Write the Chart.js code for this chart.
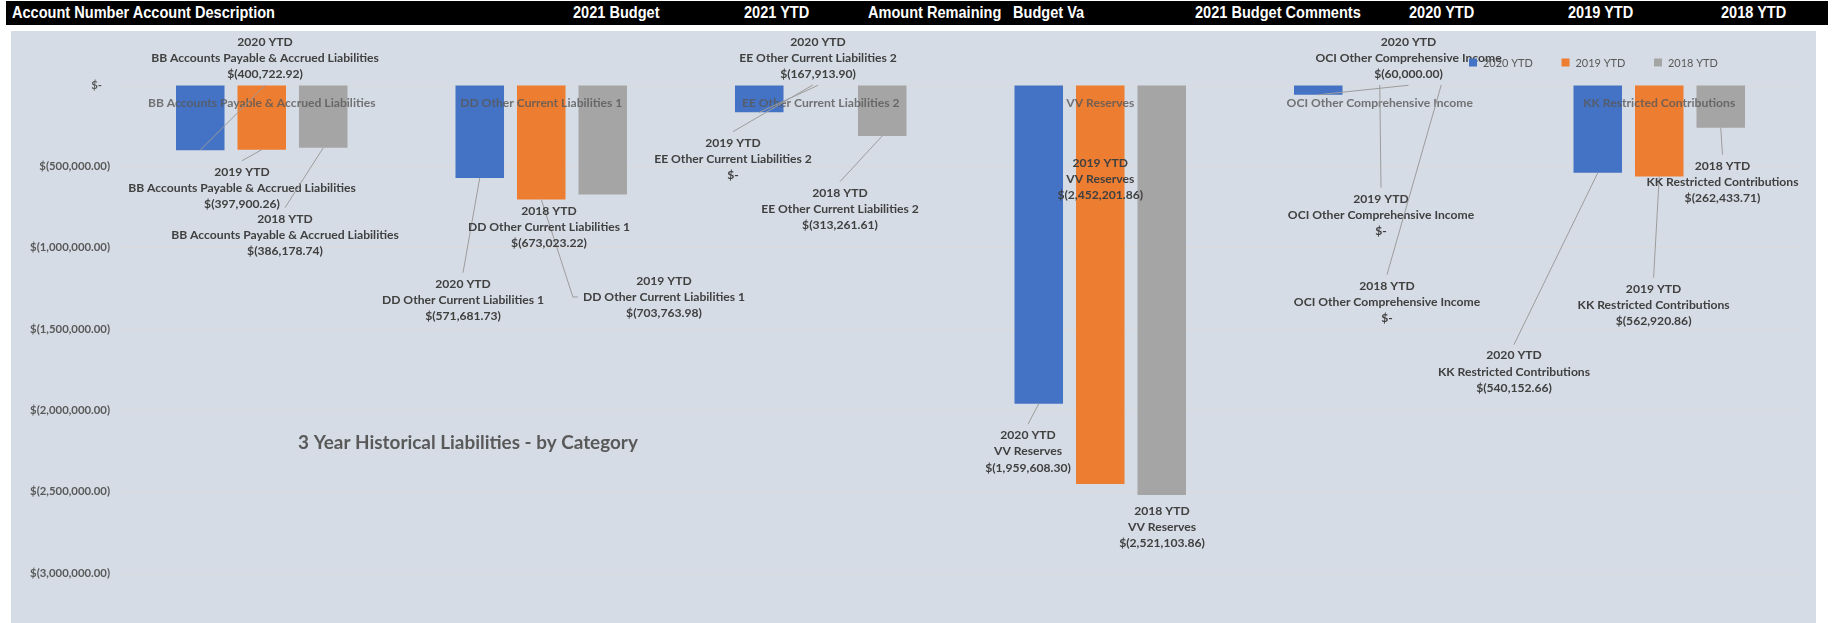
<!DOCTYPE html>
<html>
<head>
<meta charset="utf-8">
<script src="https://cdn.jsdelivr.net/npm/chart.js@4.4.1/dist/chart.umd.min.js"></script>
<style>
html,body{margin:0;padding:0;background:#fff;width:1835px;height:623px;overflow:hidden;}
#hdr{position:absolute;left:6px;top:1px;width:1822px;height:24px;background:#000;}
#hdr span{position:absolute;top:0;line-height:24px;color:#fff;font-family:"Liberation Sans Narrow","Liberation Sans",Arial,sans-serif;font-weight:bold;font-size:16px;white-space:nowrap;transform-origin:0 50%;}
#wrap{position:absolute;left:11px;top:31px;width:1805px;height:592px;background:#D6DCE5;}
canvas{display:block;}
</style>
</head>
<body>
<div id="hdr"></div>
<div id="wrap"><canvas id="c" width="1805" height="592"></canvas></div>
<script>
// ---------- DATA ----------
const categories = [
  "BB Accounts Payable & Accrued Liabilities",
  "DD Other Current Liabilities 1",
  "EE Other Current Liabilities 2",
  "VV Reserves",
  "OCI Other Comprehensive Income",
  "KK Restricted Contributions"
];
const seriesNames = ["2020 YTD", "2019 YTD", "2018 YTD"];
const ytd2020 = [-400722.92, -571681.73, -167913.90, -1959608.30, -60000.00, -540152.66];
const ytd2019 = [-397900.26, -703763.98, 0, -2452201.86, 0, -562920.86];
const ytd2018 = [-386178.74, -673023.22, -313261.61, -2521103.86, 0, -262433.71];
const yTickValues = [0, -500000, -1000000, -1500000, -2000000, -2500000, -3000000];
const headerLabels = ["Account Number Account Description", "2021 Budget", "2021 YTD", "Amount Remaining", "Budget Va", "2021 Budget Comments", "2020 YTD", "2019 YTD", "2018 YTD"];
const chartTitle = "3 Year Historical Liabilities - by Category";

// ---------- LAYOUT / STYLE ----------
const headerX = [12, 573, 744, 868, 1013, 1195, 1409, 1568, 1721];
const headerFirstWidth = 263;
const seriesColors = ["#4472C4", "#ED7D31", "#A5A5A5"];
// label offsets relative to the end of each bar (px); sx shifts the leader start
const labelLayout = [
  [{dx:64.75,dy:-92.2,lead:'auto'},{dx:-16.75,dy:122,lead:'auto'},{dx:58.75,dy:-54.3,lead:'auto'},{dx:-10.75,dy:47.7,lead:'auto'},{dx:90.25,dy:-36.8,lead:'auto'},{dx:-83.75,dy:199,lead:'auto'}],
  [{dx:-19.75,dy:38.3,lead:'auto'},{dx:122.75,dy:97.5,lead:'side'},{dx:-87.75,dy:74,lead:'auto',sx:-8},{dx:0,dy:-305,lead:'none'},{dx:1.25,dy:130,lead:'auto'},{dx:-5.65,dy:128.4,lead:'auto'}],
  [{dx:-38.25,dy:87.2,lead:'auto'},{dx:-53.75,dy:32.5,lead:'none'},{dx:-42.25,dy:73,lead:'auto'},{dx:0.25,dy:32,lead:'none'},{dx:-54.25,dy:217,lead:'auto'},{dx:1.75,dy:54.3,lead:'auto'}]
];
const FAM = "Lato, 'Open Sans', sans-serif";

// header (uniform horizontal condensing)
const hdr = document.getElementById('hdr');
let hScale = 1;
headerLabels.forEach((t, i) => {
  const s = document.createElement('span');
  s.textContent = t;
  s.style.left = (headerX[i] - 6) + 'px';
  hdr.appendChild(s);
  if (i === 0) hScale = headerFirstWidth / s.getBoundingClientRect().width;
  s.style.transform = 'scaleX(' + hScale + ')';
});

const mctx = document.createElement('canvas').getContext('2d');
function fitSize(text, weight, target) {
  mctx.font = weight + ' 20px ' + FAM;
  return 20 * target / mctx.measureText(text).width;
}
const labelSize = fitSize(categories[0], 'bold', 228);
const tickSize = fitSize('$(1,000,000.00)', 'bold', 80);
const titleSize = fitSize(chartTitle, 'bold', 340);
const legendSize = fitSize('2020 YTD', 'normal', 50);

function acct(v) {
  if (v === 0) return '$-';
  const s = Math.abs(v).toLocaleString('en-US', {minimumFractionDigits:2, maximumFractionDigits:2});
  return v < 0 ? '$(' + s + ')' : '$' + s;
}

const overlay = {
  id: 'overlay',
  afterDatasetsDraw(chart) {
    const ctx = chart.ctx, xs = chart.scales.x, area = chart.chartArea;
    ctx.save();
    ctx.font = 'bold ' + labelSize + 'px ' + FAM;
    ctx.textAlign = 'center';
    ctx.textBaseline = 'middle';
    ctx.fillStyle = 'rgba(89,89,89,0.82)';
    chart.data.labels.forEach((c, i) => ctx.fillText(c, xs.getPixelForValue(i), area.top + 18));
    const LH = 16.3;
    chart.data.datasets.forEach((ds, di) => {
      const meta = chart.getDatasetMeta(di);
      meta.data.forEach((bar, i) => {
        const cfg = labelLayout[di][i];
        const bx = bar.x + (cfg.sx || 0), by = bar.y;
        const lx = bar.x + cfg.dx, ly = by + cfg.dy;
        const lines = [ds.label, chart.data.labels[i], acct(ds.data[i])];
        ctx.strokeStyle = '#9C9C9C';
        ctx.lineWidth = 1;
        if (cfg.lead === 'auto') {
          const ey = cfg.dy > 0 ? ly - LH - 11 : ly + LH + 11;
          ctx.beginPath(); ctx.moveTo(bx, by); ctx.lineTo(lx, ey); ctx.stroke();
        } else if (cfg.lead === 'side') {
          const w = Math.max(...lines.map(l => ctx.measureText(l).width));
          const left = lx - w / 2;
          ctx.beginPath(); ctx.moveTo(bx, by); ctx.lineTo(left - 10, ly); ctx.lineTo(left - 5, ly); ctx.stroke();
        }
        ctx.fillStyle = '#404040';
        lines.forEach((l, k) => ctx.fillText(l, lx, ly + (k - 1) * LH));
      });
    });
    ctx.restore();
  },
  afterDraw(chart) {
    const ctx = chart.ctx;
    ctx.save();
    ctx.font = 'normal ' + legendSize + 'px ' + FAM;
    ctx.textBaseline = 'middle';
    ctx.textAlign = 'left';
    chart.data.datasets.forEach((ds, di) => {
      const x0 = 1458 + di * 92.5, yc = 31.5;
      ctx.fillStyle = ds.backgroundColor;
      ctx.fillRect(x0, yc - 4, 8, 8);
      ctx.fillStyle = '#595959';
      ctx.fillText(ds.label, x0 + 14, yc + 0.5);
    });
    ctx.font = 'bold ' + titleSize + 'px ' + FAM;
    ctx.textAlign = 'center';
    ctx.fillStyle = '#595959';
    ctx.fillText(chartTitle, 457, 412);
    ctx.restore();
  }
};

new Chart(document.getElementById('c'), {
  type: 'bar',
  data: {
    labels: categories,
    datasets: [
      {label: seriesNames[0], data: ytd2020, backgroundColor: seriesColors[0]},
      {label: seriesNames[1], data: ytd2019, backgroundColor: seriesColors[1]},
      {label: seriesNames[2], data: ytd2018, backgroundColor: seriesColors[2]}
    ]
  },
  options: {
    responsive: false,
    animation: false,
    layout: {padding: {left: 0, right: 17, top: 54, bottom: 50}},
    datasets: {bar: {categoryPercentage: 0.66, barPercentage: 0.789, borderWidth: 0}},
    plugins: {legend: {display: false}, title: {display: false}, tooltip: {enabled: false}},
    scales: {
      x: {display: false},
      y: {
        min: yTickValues[yTickValues.length - 1],
        max: yTickValues[0],
        afterBuildTicks(s) { s.ticks = yTickValues.map(v => ({value: v})); },
        afterFit(s) { s.width = 111; },
        border: {display: false},
        grid: {color: '#DADADA', drawTicks: false, lineWidth: 1},
        ticks: {
          padding: 12,
          color: '#595959',
          font: {family: FAM, weight: 'bold', size: tickSize},
          callback: v => v === 0 ? '$-\u2007\u2009' : acct(v)
        }
      }
    }
  },
  plugins: [overlay]
});
</script>
</body>
</html>
